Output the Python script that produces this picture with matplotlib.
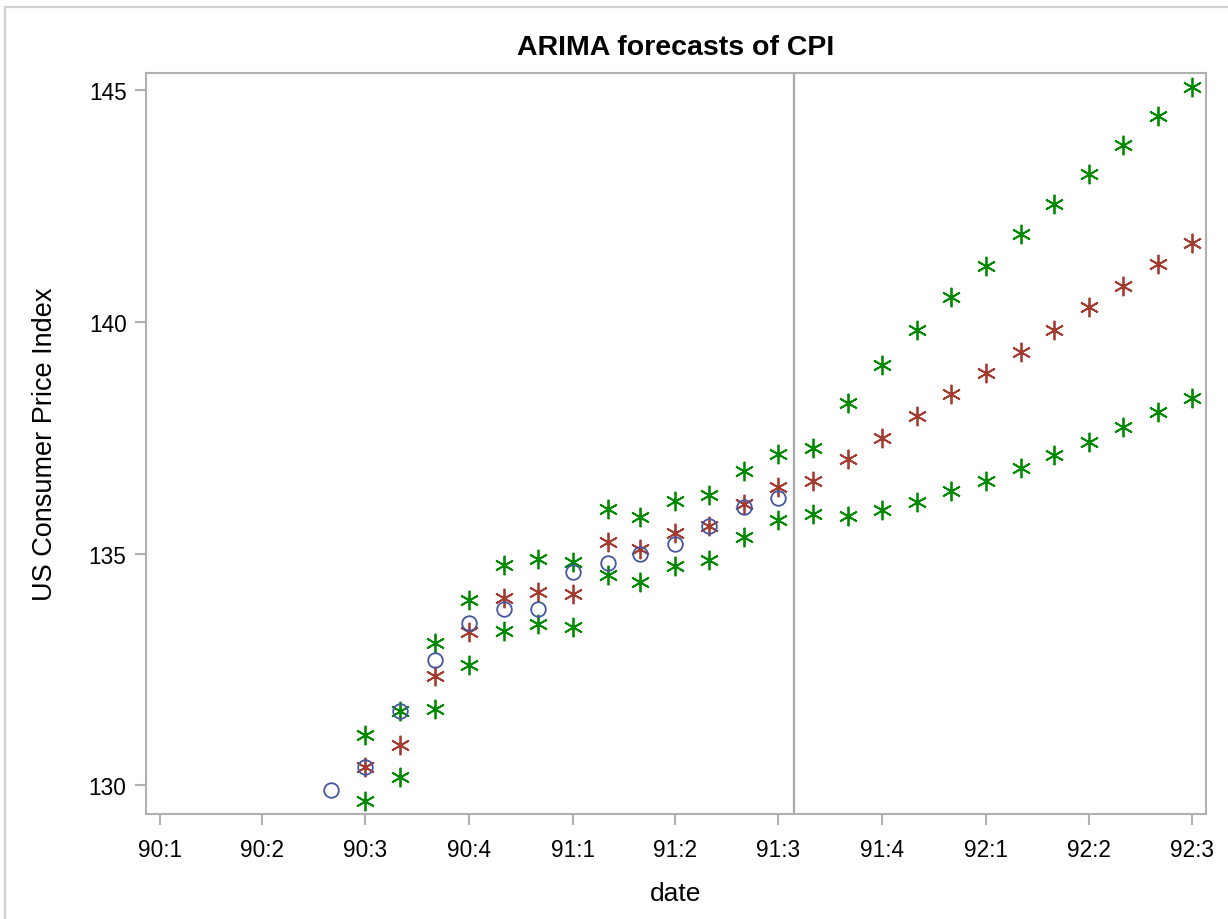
import matplotlib
matplotlib.use("Agg")
import matplotlib.pyplot as plt
import matplotlib.lines as mlines
import pandas as pd

plt.rcParams['font.family'] = ['Liberation Sans', 'DejaVu Sans']

# actual CPI, monthly from Jun 1990
cpi_dates = pd.date_range('1990-06-01', periods=14, freq='MS')
cpi = [129.9, 130.4, 131.6, 132.7, 133.5, 133.8, 133.8,
       134.6, 134.8, 135.0, 135.2, 135.6, 136.0, 136.2]

# forecasts and confidence limits, monthly from Jul 1990
fc_dates = pd.date_range('1990-07-01', periods=25, freq='MS')
forecast = [130.40, 130.87, 132.35, 133.30, 134.05, 134.17, 134.13, 135.25,
            135.10, 135.44, 135.60, 136.07, 136.43, 136.57, 137.04, 137.49,
            137.98, 138.44, 138.90, 139.36, 139.83, 140.32, 140.77, 141.25,
            141.71]
upper = [131.08, 131.59, 133.07, 134.00, 134.75, 134.88, 134.82, 135.96,
         135.79, 136.14, 136.27, 136.79, 137.15, 137.27, 138.25, 139.07,
         139.82, 140.55, 141.22, 141.90, 142.55, 143.20, 143.82, 144.44,
         145.07]
lower = [129.66, 130.17, 131.64, 132.59, 133.33, 133.48, 133.41, 134.54,
         134.38, 134.72, 134.86, 135.36, 135.72, 135.85, 135.82, 135.94,
         136.12, 136.34, 136.57, 136.85, 137.13, 137.41, 137.73, 138.05,
         138.36]

tick_dates = pd.date_range('1990-01-01', '1992-07-01', freq='QS')
tick_labels = ['90:1', '90:2', '90:3', '90:4', '91:1', '91:2', '91:3',
               '91:4', '92:1', '92:2', '92:3']
ref_date = pd.Timestamp('1991-07-15')

star = (6, 2, 0)

fig = plt.figure(figsize=(12.28, 9.2), dpi=100)
ax = fig.add_axes([0.1189, 0.1141, 0.8632, 0.8055])

ax.axvline(ref_date, color='#a8a8a8', lw=1.6, zorder=1)
ax.plot(fc_dates, upper, ls='none', marker=star, ms=14, mew=1.3,
        color='#008a00', zorder=2)
ax.plot(fc_dates, lower, ls='none', marker=star, ms=14, mew=1.3,
        color='#008a00', zorder=2)
ax.plot(fc_dates, forecast, ls='none', marker=star, ms=14, mew=1.3,
        color='#a53b2f', zorder=3)
ax.plot(cpi_dates, cpi, ls='none', marker='o', ms=10.5, mew=1.3,
        mfc='none', mec='#4556a0', zorder=4)

ax.set_xlim(pd.Timestamp('1990-01-01') - pd.Timedelta(days=12.4),
            pd.Timestamp('1992-07-01') + pd.Timedelta(days=12.6))
ax.set_ylim(129.374, 145.378)
ax.set_xticks(tick_dates)
ax.set_xticklabels(tick_labels)
ax.set_yticks([130, 135, 140, 145])

for s in ax.spines.values():
    s.set_color('#b0b0b0')
    s.set_linewidth(1.5)
ax.tick_params(axis='both', colors='#b0b0b0', width=1.5, length=8,
               labelsize=16.3, labelcolor='black')
ax.tick_params(axis='x', pad=9)
ax.tick_params(axis='y', pad=6)

ax.set_title('ARIMA forecasts of CPI', fontsize=20.5, fontweight='bold', pad=14)
ax.set_xlabel('date', fontsize=19, labelpad=15)
ax.set_ylabel('US Consumer Price Index', fontsize=19.5, labelpad=22)

# light frame around the whole graph
fig.add_artist(mlines.Line2D([0.004, 1.0], [0.9913, 0.9913],
                             color='#d0d0d0', lw=1.6))
fig.add_artist(mlines.Line2D([0.004, 0.004], [0.0, 0.9913],
                             color='#d0d0d0', lw=1.6))

fig.savefig('out.png', dpi=100)
